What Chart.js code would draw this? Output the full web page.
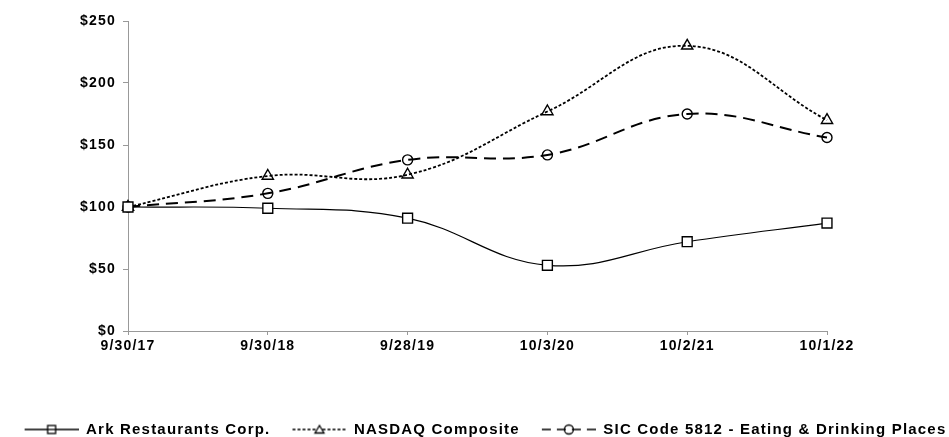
<!DOCTYPE html>
<html>
<head>
<meta charset="utf-8">
<script src="https://cdn.jsdelivr.net/npm/chart.js@4.4.1/dist/chart.umd.min.js"></script>
<style>
  body { margin: 0; background: #fff; }
  #wrap { width: 949px; height: 437px; position: relative; }
</style>
</head>
<body>
<div id="wrap"><canvas id="linechart"></canvas></div>
<script>
var dates = ["9/30/17", "9/30/18", "9/28/19", "10/3/20", "10/2/21", "10/1/22"];
var arkData = [100, 99, 91, 53, 72, 87];
var nasdaqData = [100, 125, 126, 177, 230, 170];
var sicData = [100, 111, 138, 142, 175, 156];
var seriesNames = ["Ark Restaurants Corp.", "NASDAQ Composite", "SIC Code 5812 - Eating & Drinking Places"];
var yTicks = [0, 50, 100, 150, 200, 250];

var FONT = '"Liberation Sans", Arial, sans-serif';

// little legend icons: line + marker, like the excel legend
function legendIcon(kind) {
  var c = document.createElement("canvas");
  c.width = 76;
  c.height = 14;
  var g = c.getContext("2d");
  var x0 = 22, x1 = 76, cx = 49, cy = 7;
  g.strokeStyle = "#000";
  g.lineWidth = 1.5;
  if (kind == "dot") g.setLineDash([3, 2]);
  if (kind == "dash") g.setLineDash([9, 6]);
  g.beginPath();
  g.moveTo(x0, cy);
  g.lineTo(x1, cy);
  g.stroke();
  g.setLineDash([]);
  g.lineWidth = 1.3;
  if (kind == "solid") {
    g.fillStyle = "#fff";
    g.fillRect(cx - 4, cy - 4, 8, 8);
    g.strokeRect(cx - 4, cy - 4, 8, 8);
    g.beginPath(); g.moveTo(cx - 4, cy); g.lineTo(cx + 4, cy); g.stroke();
  } else if (kind == "dot") {
    g.fillStyle = "#fff";
    g.beginPath();
    g.moveTo(cx, cy - 4);
    g.lineTo(cx + 4.5, cy + 3.5);
    g.lineTo(cx - 4.5, cy + 3.5);
    g.closePath();
    g.fill();
    g.stroke();
  } else {
    g.beginPath();
    g.arc(cx, cy, 4.5, 0, Math.PI * 2);
    g.stroke();
  }
  return c;
}

var icons = [legendIcon("solid"), legendIcon("dot"), legendIcon("dash")];

var spacingPlugin = {
  id: "spacing",
  beforeUpdate: function (chart) { chart.ctx.letterSpacing = "1.2px"; },
  beforeDraw: function (chart) { chart.ctx.letterSpacing = "1.2px"; }
};

var ctx = document.getElementById("linechart").getContext("2d");

var chart = new Chart(ctx, {
  type: "line",
  data: {
    labels: dates,
    datasets: [
      {
        label: seriesNames[0],
        data: arkData,
        borderColor: "#000",
        borderWidth: 1.2,
        tension: 0.4,
        pointStyle: "rect",
        pointRadius: 7,
        pointBorderWidth: 1.4,
        pointBackgroundColor: "#fff",
        pointBorderColor: "#000",
      },
      {
        label: seriesNames[1],
        data: nasdaqData,
        borderColor: "#000",
        borderWidth: 1.8,
        borderDash: [3, 2],
        tension: 0.4,
        pointStyle: "triangle",
        pointRadius: 6.5,
        pointBorderWidth: 1.4,
        pointBackgroundColor: "rgba(255,255,255,0)",
        pointBorderColor: "#000",
      },
      {
        label: seriesNames[2],
        data: sicData,
        borderColor: "#000",
        borderWidth: 2,
        borderDash: [12, 7],
        tension: 0.4,
        pointStyle: "circle",
        pointRadius: 5,
        pointBorderWidth: 1.4,
        pointBackgroundColor: "rgba(255,255,255,0)",
        pointBorderColor: "#000",
      },
    ],
  },
  options: {
    responsive: true,
    maintainAspectRatio: false,
    animation: false,
    layout: { padding: { left: 0, right: 0, top: 21, bottom: -10 } },
    scales: {
      x: {
        afterFit: function (scale) { scale.height = 91; },
        border: { color: "#999", width: 1 },
        grid: { drawOnChartArea: false, tickLength: 4, color: "#999" },
        ticks: {
          padding: 3,
          maxRotation: 0,
          color: "#000",
          font: { family: FONT, size: 14, weight: "bold" },
        },
      },
      y: {
        min: 0,
        max: 250,
        afterFit: function (scale) { scale.width = 128; },
        afterBuildTicks: function (scale) {
          scale.ticks = yTicks.map(function (v) { return { value: v }; });
        },
        border: { color: "#999", width: 1 },
        grid: { drawOnChartArea: false, tickLength: 5, color: "#999" },
        ticks: {
          padding: 7,
          color: "#000",
          font: { family: FONT, size: 14, weight: "bold" },
          callback: function (v) { return "$" + v; },
        },
      },
      // empty right axis, only keeps the blank space on the right
      yRight: {
        position: "right",
        min: 0,
        max: 250,
        afterFit: function (scale) { scale.width = 122; },
        border: { display: false },
        grid: { display: false },
        ticks: { display: false },
      },
    },
    plugins: {
      tooltip: { enabled: false },
      legend: {
        position: "bottom",
        labels: {
          usePointStyle: true,
          pointStyleWidth: 76,
          padding: 0,
          color: "#000",
          font: { family: FONT, size: 15, weight: "bold" },
          generateLabels: function (chart) {
            var items = Chart.defaults.plugins.legend.labels.generateLabels(chart);
            items.forEach(function (it, i) { it.pointStyle = icons[i]; });
            return items;
          },
        },
      },
    },
  },
  plugins: [spacingPlugin],
});
</script>
</body>
</html>
